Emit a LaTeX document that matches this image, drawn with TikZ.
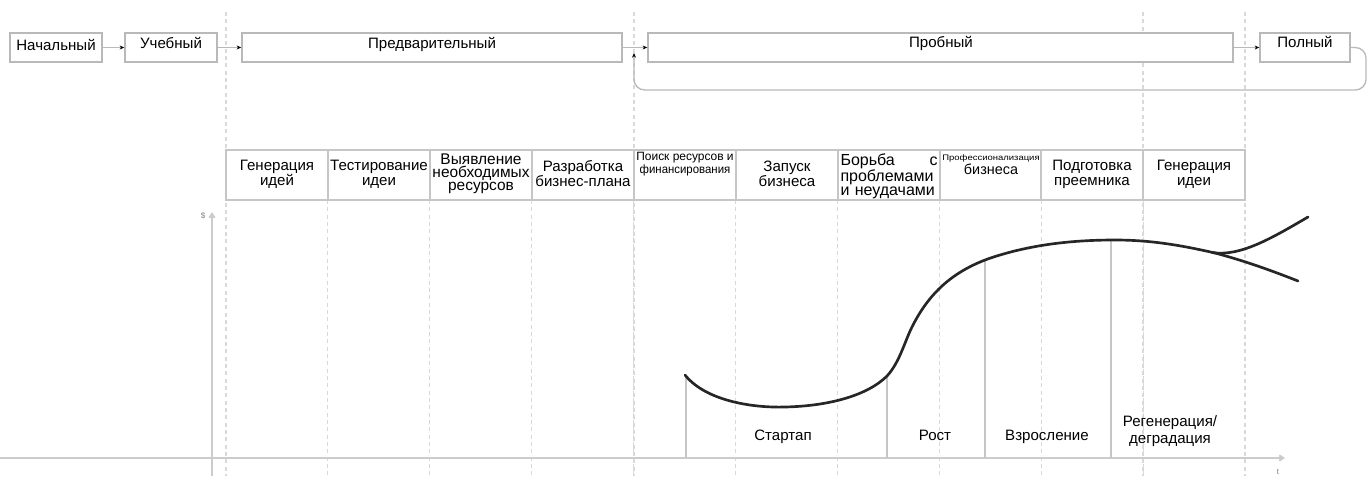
\documentclass[tikz,border=0pt]{standalone}
\usepackage{fontspec}
\setmainfont{Liberation Sans}
\usetikzlibrary{arrows.meta}
\begin{document}
\begin{tikzpicture}[x=0.75pt,y=-0.75pt,
  topbox/.style={draw=gray!55, line width=1.1pt, fill=white, minimum height=29*0.75pt, inner sep=0pt},
  toptext/.style={font=\fontsize{11.3}{13}\selectfont, inner sep=0pt, anchor=base},
  cell/.style={draw=gray!45, line width=1.2pt, fill=white, minimum width=101.9*0.75pt, minimum height=50*0.75pt, inner sep=0pt},
  celltext/.style={font=\fontsize{11.3}{11.3}\selectfont, align=center, inner sep=0pt},
  flow/.style={draw=gray!55, line width=1pt, -{Stealth[black,length=3.5pt,width=3pt]}},
  gridline/.style={draw=gray!30, line width=0.8pt, dash pattern=on 3pt off 2.5pt},
  axis/.style={draw=gray!40, line width=1.5pt, -{Straight Barb[length=3pt,width=4pt]}},
  stageline/.style={draw=gray!45, line width=1.1pt},
  stage/.style={font=\fontsize{11.3}{12.75}\selectfont, align=center, inner sep=0pt, anchor=base},
  curve/.style={draw=black!85, line width=2pt, line cap=round}
]
\useasboundingbox (0,0) rectangle (1370,476);

% dashed guide lines
\foreach \x in {226,634,1143,1245} \draw[gridline] (\x,12) -- (\x,476);
\foreach \i in {1,...,9} \draw[gridline] ({226+101.9*\i},200) -- ({226+101.9*\i},476);

% top row
\node[topbox, minimum width=92*0.75pt] (nach) at (56,47.5) {};
\node[topbox, minimum width=92*0.75pt] (ucheb) at (171,47.5) {};
\node[topbox, minimum width=380*0.75pt] (pred) at (432,47.5) {};
\node[topbox, minimum width=585*0.75pt] (prob) at (940.5,47.5) {};
\node[topbox, minimum width=90*0.75pt] (poln) at (1305,47.5) {};
\node[toptext] (tnach) at (56,50) {Начальный};
\node[toptext] (tucheb) at (171,48.5) {Учебный};
\node[toptext] (tpred) at (432,48.5) {Предварительный};
\node[toptext] (tprob) at (941,47) {Пробный};
\node[toptext] (tpoln) at (1305,47) {Полный};

\draw[flow] (nach.east) -- (ucheb.west);
\draw[flow] (ucheb.east) -- (pred.west);
\draw[flow] (pred.east) -- (prob.west);
\draw[flow] (prob.east) -- (poln.west);
\coordinate (loopend) at (634,53);
\draw[flow, rounded corners=8pt] (poln.east) -- (1366,47.5) -- (1366,90) -- (634,90) -- (loopend);

% table
\node[cell] (c1) at (277,175) {};
\node[cell] (c2) at (379,175) {};
\node[cell] (c3) at (481,175) {};
\node[cell] (c4) at (583,175) {};
\node[cell] (c5) at (685,175) {};
\node[cell] (c6) at (787,175) {};
\node[cell] (c7) at (889,175) {};
\node[cell] (c8) at (991,175) {};
\node[cell] (c9) at (1092,175) {};
\node[cell] (c10) at (1194,175) {};

\node[celltext] (t1) at (277,174) {Генерация\\идей};
\node[celltext] (t2) at (379,174) {Тестирование\\идеи};
\node[celltext, font=\fontsize{11.6}{9.8}\selectfont] (t3) at (481,174) {Выявление\\необходимых\\ресурсов};
\node[celltext] (t4) at (583,174) {Разработка\\бизнес-плана};
\node[celltext, font=\fontsize{9}{9.8}\selectfont] (t5) at (685,164) {\resizebox{73pt}{\height}{Поиск ресурсов и}\\\resizebox{68pt}{\height}{финансирования}};
\node[celltext] (t6) at (787,174) {Запуск\\бизнеса};
\node[celltext, font=\fontsize{12}{10.2}\selectfont, text width=97*0.75pt, align=left] (t7) at (889,176) {Борьба\hfill с\\проблемами\\и неудачами};
\node[celltext, anchor=base, font=\fontsize{6}{6}\selectfont] (t8a) at (991,160) {\resizebox{73pt}{\height}{Профессионализация}};
\node[celltext, anchor=base, font=\fontsize{10.8}{11}\selectfont] (t8b) at (991,174) {бизнеса};
\node[celltext] (t9) at (1092,174) {Подготовка\\преемника};
\node[celltext] (t10) at (1194,174) {Генерация\\идеи};

% axes
\coordinate (xo) at (0,458);
\coordinate (xe) at (1285,458);
\coordinate (yo) at (212,476);
\coordinate (ye) at (212,212);
\draw[axis] (xo) -- (xe);
\draw[axis] (yo) -- (ye);
\node[font=\fontsize{6}{6}\selectfont, text=gray, inner sep=0pt] (ylab) at (203,216) {\$};
\node[font=\fontsize{6}{6}\selectfont, text=gray, inner sep=0pt] (tlab) at (1278,472) {t};

% stage boundaries
\coordinate (s1t) at (686,377); \coordinate (s1b) at (686,458);
\coordinate (s2t) at (887,377); \coordinate (s2b) at (887,458);
\coordinate (s3t) at (985,261); \coordinate (s3b) at (985,458);
\coordinate (s4t) at (1111,241); \coordinate (s4b) at (1111,458);
\draw[stageline] (s1t) -- (s1b);
\draw[stageline] (s2t) -- (s2b);
\draw[stageline] (s3t) -- (s3b);
\draw[stageline] (s4t) -- (s4b);

% curve
\draw[curve] (685,375) .. controls (705,400) and (750,408) .. (785,407)
  .. controls (830,406) and (868,395) .. (887,376)
  .. controls (900,362) and (905,340) .. (913,325)
  .. controls (930,292) and (955,268) .. (1000,255)
  .. controls (1040,243) and (1080,240) .. (1115,240)
  .. controls (1150,240) and (1180,245) .. (1215,253)
  .. controls (1245,261) and (1270,270) .. (1298,281);
\draw[curve] (1212,252.5) .. controls (1240,257) and (1272,238) .. (1308,217);

% stage labels
\node[stage] (st1) at (783,440) {Стартап};
\node[stage] (st2) at (935,440) {Рост};
\node[stage] (st3) at (1047,440) {Взросление};
\node[stage] (st4) at (1170,426) {Регенерация/};
\node[stage] (st4b) at (1170,443) {деградация};
\end{tikzpicture}
\end{document}
